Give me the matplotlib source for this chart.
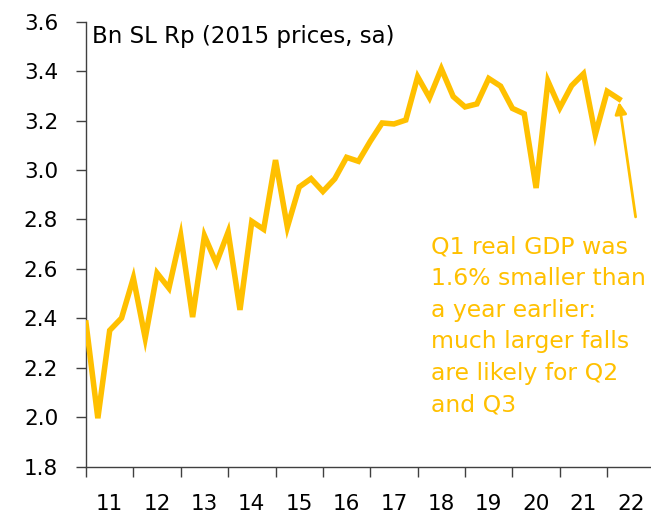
import numpy as np
import matplotlib
matplotlib.use("Agg")
import matplotlib.pyplot as plt

# Sri Lanka real GDP, quarterly, Bn SL Rp (2015 prices, seasonally adjusted)
gdp = [2.381, 1.996, 2.351, 2.401, 2.563, 2.320, 2.583, 2.522,
       2.734, 2.405, 2.734, 2.623, 2.749, 2.434, 2.792, 2.760,
       3.040, 2.769, 2.931, 2.965, 2.913, 2.964, 3.051, 3.035,
       3.116, 3.190, 3.186, 3.202, 3.377, 3.292, 3.409, 3.297,
       3.255, 3.267, 3.370, 3.339, 3.249, 3.227, 2.927, 3.359,
       3.251, 3.341, 3.389, 3.143, 3.318, 3.287]
years = ["11", "12", "13", "14", "15", "16", "17", "18", "19", "20", "21", "22"]
y_ticks = [1.8, 2.0, 2.2, 2.4, 2.6, 2.8, 3.0, 3.2, 3.4, 3.6]

GOLD = "#FFC000"
FONT = "DejaVu Sans"

fig = plt.figure(figsize=(6.51, 5.19), dpi=100)
ax = fig.add_axes([0.1321, 0.1008, 0.8679, 0.8576])

x = np.arange(len(gdp))
ax.plot(x, gdp, color=GOLD, lw=4.0, solid_joinstyle="miter", zorder=3)

ax.set_xlim(0, 47.7)
ax.set_ylim(1.8, 3.6)

# year boundaries as ticks, year labels centred between them
ax.set_xticks(np.arange(0, 4 * len(years), 4))
ax.set_xticklabels([])
ax.set_xticks(np.arange(2, 4 * len(years), 4), minor=True)
ax.set_xticklabels(years, minor=True, fontsize=15.5, family=FONT)
ax.tick_params(axis="x", which="major", length=7, width=1, color="#404040")
ax.tick_params(axis="x", which="minor", length=0, pad=20)

ax.set_yticks(y_ticks)
ax.set_yticklabels([f"{v:.1f}" for v in y_ticks], fontsize=15.5, family=FONT)
ax.tick_params(axis="y", length=7, width=1, color="#404040", pad=13)

for side in ("top", "right"):
    ax.spines[side].set_visible(False)
for side in ("left", "bottom"):
    ax.spines[side].set_color("#404040")
    ax.spines[side].set_linewidth(1)

fig.text(92 / 651, 1 - 37 / 519, "Bn SL Rp (2015 prices, sa)", fontsize=16.5,
         family=FONT, va="center", ha="left")

note = ["Q1 real GDP was", "1.6% smaller than", "a year earlier:",
        "much larger falls", "are likely for Q2", "and Q3"]
for i, line in enumerate(note):
    fig.text(431 / 651, 1 - (253 + 31.8 * i) / 519, line, fontsize=16.9,
             family=FONT, color=GOLD, ha="left", va="baseline")

ax.annotate("", xy=(45.0, 3.275), xytext=(46.4, 2.81),
            arrowprops=dict(arrowstyle="-|>,head_length=0.7,head_width=0.35",
                            color=GOLD, lw=2, shrinkA=0, shrinkB=0))

fig.savefig("out.png", dpi=100)
